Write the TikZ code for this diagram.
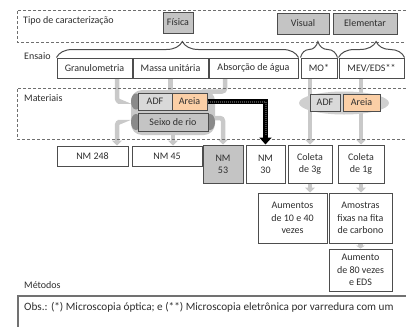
\documentclass[tikz,border=0pt]{standalone}
\usepackage{fontspec}
\setmainfont{Carlito}
\usetikzlibrary{arrows.meta,decorations.pathreplacing,calc}
\definecolor{txt}{HTML}{2E2E2E}
\definecolor{bord}{HTML}{4D4D4D}
\definecolor{gbox}{HTML}{C4C4C4}
\definecolor{lbox}{HTML}{D9D9D9}
\definecolor{sand}{HTML}{FBCFA6}
\definecolor{garr}{HTML}{C9C9C9}
\definecolor{ell}{HTML}{CFCFCF}
\definecolor{shad}{HTML}{8A8A8A}
\definecolor{dsh}{HTML}{6E6E6E}
\pgfdeclarelayer{bg}
\pgfsetlayers{bg,main}
\tikzset{
  bx/.style={draw=bord, line width=1pt, fill=white, inner sep=0pt, align=center, text=txt},
  gbx/.style={bx, fill=gbox},
  abx/.style={bx, fill=lbox},
  sbx/.style={bx, fill=sand},
  lbl/.style={anchor=west, inner sep=0pt, text=txt},
  dline/.style={draw=dsh, line width=0.9pt, dash pattern=on 3pt off 2pt},
  gline/.style={draw=garr, line width=4.5pt, rounded corners=3pt},
  garrow/.style={gline, -{Triangle[width=10pt,length=5pt]}},
  blk/.style={draw=black, line width=5pt, -{Triangle[width=12pt,length=7pt]}},
  blkin/.style={draw=black!72, line width=2pt, dash pattern=on 1pt off 1pt},
  brc/.style={draw=bord, line width=1pt, decorate},
}
\begin{document}
\begin{tikzpicture}[x=1pt,y=-1pt, font=\fontsize{10}{12.3}\selectfont]
\useasboundingbox (0,0) rectangle (406,327);
% dashed frames
\draw[dline] (406,10) -- (17,10) -- (17,42) -- (406,42);
\draw[dline] (406,88) -- (17,88) -- (17,139) -- (406,139);
% labels
\node[lbl] (ltipo) at (23,21) {Tipo de caracterização};
\node[lbl] (lens) at (24,56) {Ensaio};
\node[lbl] (lmat) at (24,98) {Materiais};
\node[lbl] (lmet) at (24,285) {Métodos};
% Obs frame
\draw[draw=bord!80, line width=1.4pt] (406,296) -- (18,296) -- (18,327);
\node[lbl, font=\fontsize{11.2}{13}\selectfont] (obs) at (24,307) {Obs.: (*) Microscopia óptica; e (**) Microscopia eletrônica por varredura com um};
% top row
\node[gbx, minimum width=30pt, minimum height=21pt] (fis) at (178,22.5) {Física};
\node[gbx, minimum width=52pt, minimum height=21pt] (vis) at (303,23.5) {Visual};
\node[gbx, minimum width=64pt, minimum height=21pt] (ele) at (365,23.5) {Elementar};
% ensaios
\node[bx, minimum width=75pt, minimum height=20pt] (gran) at (94.5,68) {Granulometria};
\node[bx, minimum width=75pt, minimum height=20pt] (mass) at (170.5,68) {Massa unitária};
\node[bx, minimum width=89pt, minimum height=20pt] (abs) at (253.5,68) {Absorção de água};
\node[bx, minimum width=36pt, minimum height=20pt] (mo) at (319,68) {MO*};
\node[bx, minimum width=65pt, minimum height=20pt] (mev) at (371.5,68) {MEV/EDS**};
% material blobs
\fill[garr] (131,90) [rounded corners=11pt] rectangle (215,135);
\fill[shad] (136,101.5) ellipse [x radius=5pt, y radius=8pt];
\fill[shad] (136,122) ellipse [x radius=5pt, y radius=8pt];
\fill[shad] (210,122) ellipse [x radius=5pt, y radius=8pt];
\fill[ell] (344,103) ellipse [x radius=45pt, y radius=11.5pt];
% materials
\node[abx, minimum width=34pt, minimum height=17pt] (adfL) at (155,101.5) {ADF};
\node[sbx, minimum width=35pt, minimum height=17pt] (areiaL) at (189.5,101.5) {Areia};
\node[gbx, minimum width=70pt, minimum height=18pt] (seixo) at (173,122) {Seixo de rio};
\node[abx, minimum width=30pt, minimum height=17pt] (adfR) at (325,102.5) {ADF};
\node[sbx, minimum width=37pt, minimum height=17pt] (areiaR) at (361.5,102.5) {Areia};
% norms
\node[bx, minimum width=71pt, minimum height=20pt] (nm248) at (92.5,156) {NM 248};
\node[bx, minimum width=70pt, minimum height=20pt] (nm45) at (167,156) {NM 45};
\node[gbx, minimum width=40pt, minimum height=38pt] (nm53) at (223,164) {NM\\53};
\node[bx, minimum width=39pt, minimum height=38pt] (nm30) at (265.5,164) {NM\\30};
\node[bx, minimum width=44pt, minimum height=38pt] (col3) at (310,164) {Coleta\\de 3g};
\node[bx, minimum width=46pt, minimum height=38pt] (col1) at (361,164) {Coleta\\de 1g};
% methods
\node[bx, minimum width=69pt, minimum height=50pt] (aum) at (292.5,218) {Aumentos\\de 10 e 40\\vezes};
\node[bx, minimum width=63pt, minimum height=50pt] (amo) at (360.5,218) {Amostras\\fixas na fita\\de carbono};
\node[bx, minimum width=63pt, minimum height=42pt] (aum80) at (360.5,270) {Aumento\\de 80 vezes\\e EDS};
% connectors
\begin{pgfonlayer}{bg}
\draw[gline] ($(gran.south)+(22.5,0)$) |- ($(adfL.west)+(-20,0)$);
\draw[garrow] ($(seixo.west)+(-20,0)$) -| ($(nm248.north)+(24.5,0)$);
\draw[gline] (mass.south) -- (mass.south |- adfL.north);
\draw[garrow] (seixo.south) -- (seixo.south |- nm45.north);
\draw[gline] ($(abs.south)+(-28.5,0)$) |- ($(areiaL.north east)+(-6,-1)$);
\draw[garrow] ($(seixo.east)+(0,-4)$) -| (nm53.north);
\draw[garrow] (mo.south -| col3.north) -- (col3.north);
\draw[garrow] (mev.south -| col1.north) -- (col1.north);
\end{pgfonlayer}
\draw[garrow] (col3.south) -- (col3.south |- aum.north);
\draw[garrow] (col1.south) -- (col1.south |- amo.north);
\draw[gline, -{Triangle[width=9pt,length=3pt]}] (amo.south) -- (aum80.north);
\draw[blk] (areiaL.east) -| (nm30.north);
\draw[blkin] (areiaL.east) -| ($(nm30.north)+(0,-9)$);
% braces
\draw[brc, decoration={brace, amplitude=16pt, aspect=0.52}] (gran.north west) -- (abs.north east);
\draw[brc, decoration={brace, amplitude=16pt, aspect=0.47}] (mo.north west) -- (mo.north east);
\draw[brc, decoration={brace, amplitude=16pt, aspect=0.57}] (mev.north west) -- (mev.north east);
\end{tikzpicture}
\end{document}
